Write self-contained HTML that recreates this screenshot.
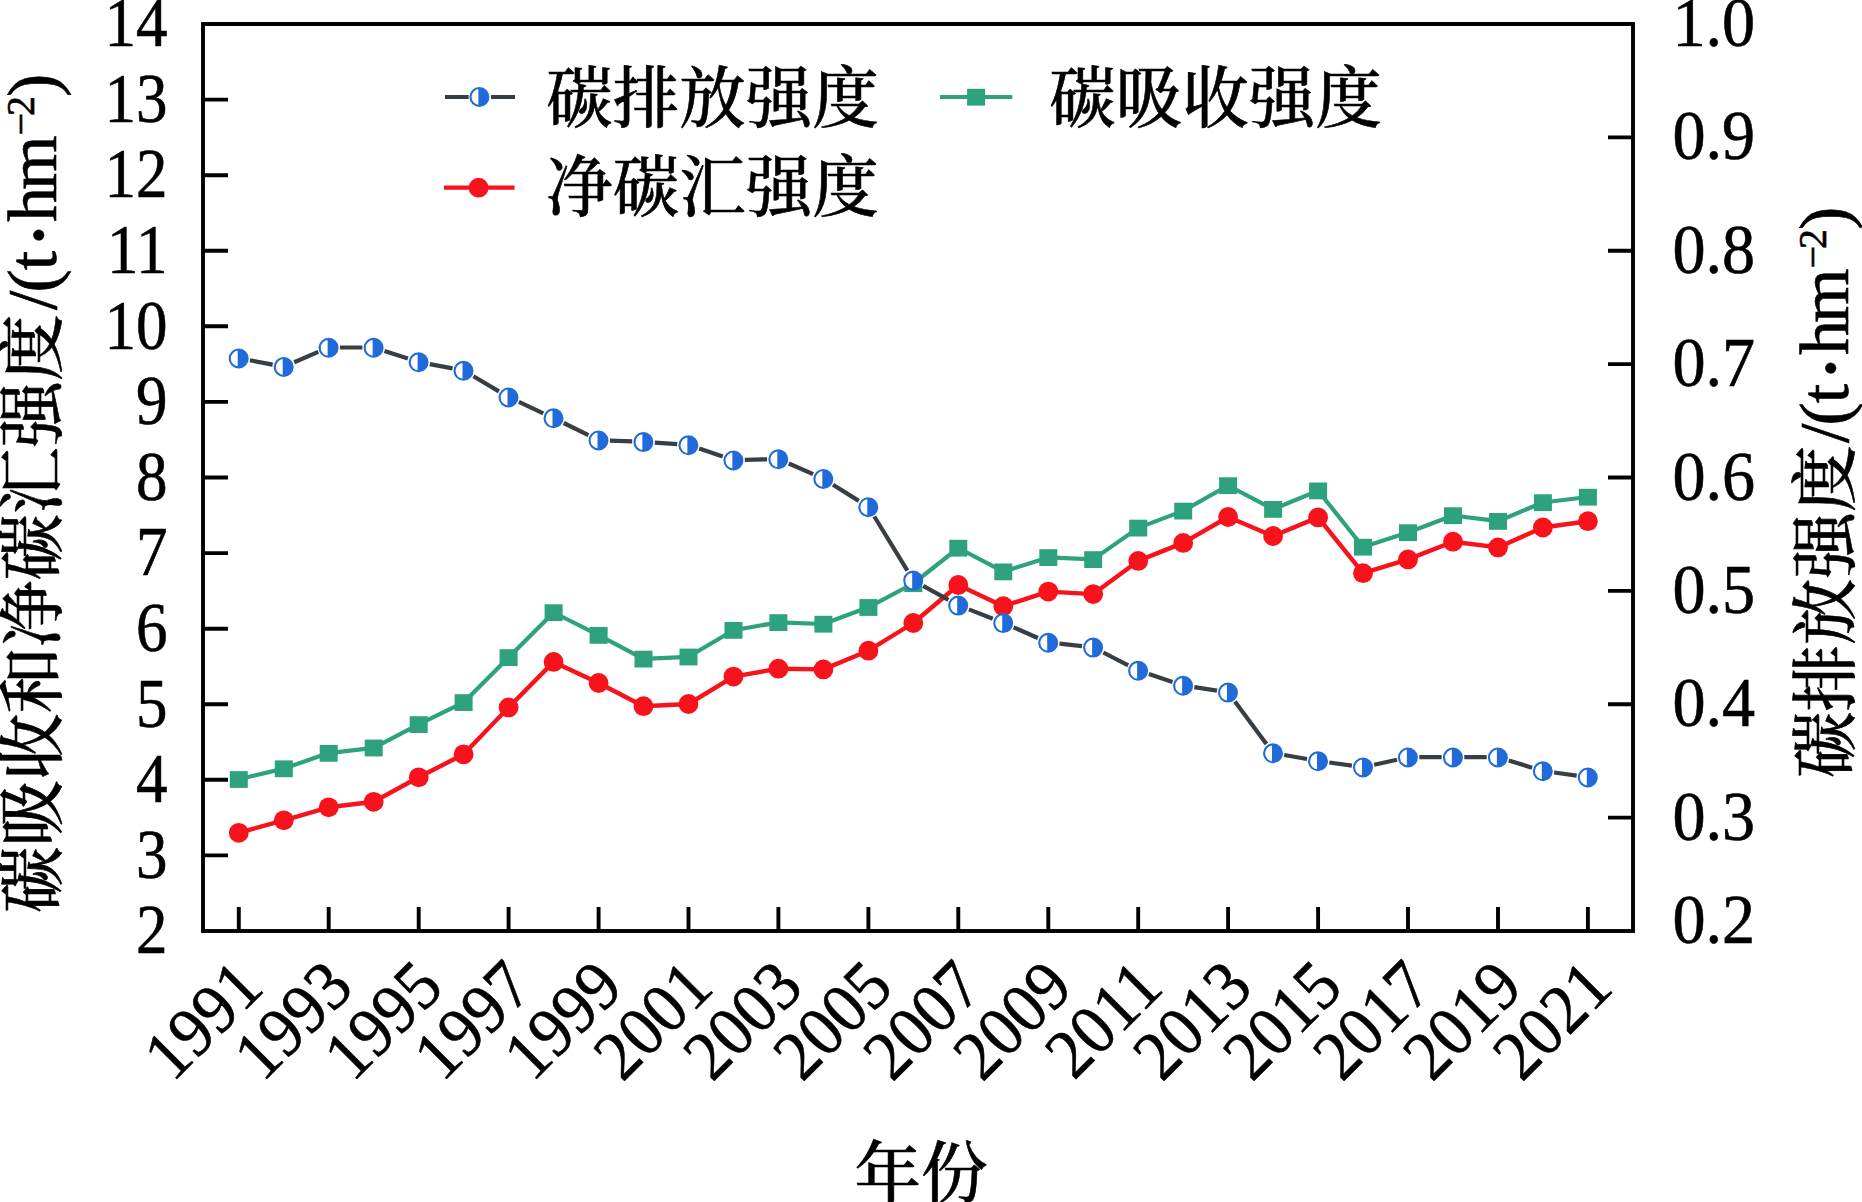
<!DOCTYPE html>
<html lang="zh"><head><meta charset="utf-8"><title>碳强度</title>
<style>html,body{margin:0;padding:0;background:#fff}svg{display:block}text{fill:#000;stroke:#000;stroke-width:.6px}.n{font-family:"Liberation Serif","Noto Serif CJK SC",serif;font-size:70px}.c{font-family:"Noto Serif CJK SC","Liberation Serif",serif;font-size:66.5px;font-weight:500}</style></head><body>
<svg width="1862" height="1202" viewBox="0 0 1862 1202">
<rect width="1862" height="1202" fill="#fff"/>
<path d="M203.0 855.4h25M203.0 779.8h25M203.0 704.2h25M203.0 628.7h25M203.0 553.1h25M203.0 477.5h25M203.0 401.9h25M203.0 326.3h25M203.0 250.8h25M203.0 175.2h25M203.0 99.6h25M1633.0 817.6h-25M1633.0 704.2h-25M1633.0 590.9h-25M1633.0 477.5h-25M1633.0 364.1h-25M1633.0 250.8h-25M1633.0 137.4h-25M238.8 931.0v-24M328.7 931.0v-24M418.7 931.0v-24M508.6 931.0v-24M598.6 931.0v-24M688.5 931.0v-24M778.4 931.0v-24M868.4 931.0v-24M958.3 931.0v-24M1048.3 931.0v-24M1138.2 931.0v-24M1228.1 931.0v-24M1318.1 931.0v-24M1408.0 931.0v-24M1498.0 931.0v-24M1587.9 931.0v-24" stroke="#000" stroke-width="3.9" fill="none"/>
<polyline points="238.8,779.3 283.8,768.6 328.7,753.1 373.7,747.8 418.7,724.4 463.6,702.4 508.6,657.4 553.6,612.5 598.6,635.2 643.5,658.9 688.5,656.8 733.5,630.2 778.4,622.4 823.4,624.0 868.4,607.3 913.3,583.5 958.3,548.0 1003.3,571.7 1048.3,557.4 1093.2,559.4 1138.2,527.9 1183.2,510.9 1228.1,485.5 1273.1,509.2 1318.1,490.7 1363.0,547.0 1408.0,532.5 1453.0,515.5 1498.0,521.2 1542.9,502.5 1587.9,497.0" fill="none" stroke="#2ea27e" stroke-width="4.2" stroke-linejoin="round"/>
<g fill="#2ea27e"><rect x="229.8" y="771.1" width="18.0" height="16.8"/><rect x="274.8" y="760.4" width="18.0" height="16.8"/><rect x="319.7" y="744.9" width="18.0" height="16.8"/><rect x="364.7" y="739.6" width="18.0" height="16.8"/><rect x="409.7" y="716.2" width="18.0" height="16.8"/><rect x="454.6" y="694.2" width="18.0" height="16.8"/><rect x="499.6" y="649.2" width="18.0" height="16.8"/><rect x="544.6" y="604.3" width="18.0" height="16.8"/><rect x="589.6" y="627.0" width="18.0" height="16.8"/><rect x="634.5" y="650.7" width="18.0" height="16.8"/><rect x="679.5" y="648.6" width="18.0" height="16.8"/><rect x="724.5" y="622.0" width="18.0" height="16.8"/><rect x="769.4" y="614.2" width="18.0" height="16.8"/><rect x="814.4" y="615.8" width="18.0" height="16.8"/><rect x="859.4" y="599.1" width="18.0" height="16.8"/><rect x="904.3" y="575.3" width="18.0" height="16.8"/><rect x="949.3" y="539.8" width="18.0" height="16.8"/><rect x="994.3" y="563.5" width="18.0" height="16.8"/><rect x="1039.3" y="549.2" width="18.0" height="16.8"/><rect x="1084.2" y="551.2" width="18.0" height="16.8"/><rect x="1129.2" y="519.7" width="18.0" height="16.8"/><rect x="1174.2" y="502.7" width="18.0" height="16.8"/><rect x="1219.1" y="477.3" width="18.0" height="16.8"/><rect x="1264.1" y="501.0" width="18.0" height="16.8"/><rect x="1309.1" y="482.5" width="18.0" height="16.8"/><rect x="1354.0" y="538.8" width="18.0" height="16.8"/><rect x="1399.0" y="524.3" width="18.0" height="16.8"/><rect x="1444.0" y="507.3" width="18.0" height="16.8"/><rect x="1489.0" y="513.0" width="18.0" height="16.8"/><rect x="1533.9" y="494.3" width="18.0" height="16.8"/><rect x="1578.9" y="488.8" width="18.0" height="16.8"/></g>
<polyline points="238.8,832.8 283.8,820.3 328.7,807.3 373.7,801.8 418.7,777.3 463.6,754.3 508.6,707.4 553.6,661.9 598.6,683.0 643.5,706.2 688.5,704.0 733.5,676.6 778.4,668.7 823.4,669.4 868.4,650.7 913.3,623.0 958.3,585.0 1003.3,606.2 1048.3,591.6 1093.2,594.1 1138.2,560.9 1183.2,542.9 1228.1,517.0 1273.1,536.0 1318.1,517.4 1363.0,573.2 1408.0,559.4 1453.0,541.7 1498.0,547.4 1542.9,527.5 1587.9,521.2" fill="none" stroke="#f8121b" stroke-width="4.4" stroke-linejoin="round"/>
<g fill="#f8121b"><circle cx="238.8" cy="832.8" r="9.9"/><circle cx="283.8" cy="820.3" r="9.9"/><circle cx="328.7" cy="807.3" r="9.9"/><circle cx="373.7" cy="801.8" r="9.9"/><circle cx="418.7" cy="777.3" r="9.9"/><circle cx="463.6" cy="754.3" r="9.9"/><circle cx="508.6" cy="707.4" r="9.9"/><circle cx="553.6" cy="661.9" r="9.9"/><circle cx="598.6" cy="683.0" r="9.9"/><circle cx="643.5" cy="706.2" r="9.9"/><circle cx="688.5" cy="704.0" r="9.9"/><circle cx="733.5" cy="676.6" r="9.9"/><circle cx="778.4" cy="668.7" r="9.9"/><circle cx="823.4" cy="669.4" r="9.9"/><circle cx="868.4" cy="650.7" r="9.9"/><circle cx="913.3" cy="623.0" r="9.9"/><circle cx="958.3" cy="585.0" r="9.9"/><circle cx="1003.3" cy="606.2" r="9.9"/><circle cx="1048.3" cy="591.6" r="9.9"/><circle cx="1093.2" cy="594.1" r="9.9"/><circle cx="1138.2" cy="560.9" r="9.9"/><circle cx="1183.2" cy="542.9" r="9.9"/><circle cx="1228.1" cy="517.0" r="9.9"/><circle cx="1273.1" cy="536.0" r="9.9"/><circle cx="1318.1" cy="517.4" r="9.9"/><circle cx="1363.0" cy="573.2" r="9.9"/><circle cx="1408.0" cy="559.4" r="9.9"/><circle cx="1453.0" cy="541.7" r="9.9"/><circle cx="1498.0" cy="547.4" r="9.9"/><circle cx="1542.9" cy="527.5" r="9.9"/><circle cx="1587.9" cy="521.2" r="9.9"/></g>
<path d="M249.9 360.3L272.7 364.6M294.2 362.3L318.3 351.9M340.0 347.5L362.4 347.5M384.5 351.0L407.9 358.5M429.8 364.1L452.5 368.4M473.4 376.3L498.9 391.4M518.9 401.9L543.3 413.3M563.7 423.0L588.4 435.2M609.9 440.6L632.2 441.4M654.8 442.6L677.2 444.2M699.2 448.6L722.8 456.6M744.8 459.9L767.1 459.3M788.8 463.5L813.1 474.2M833.0 484.7L858.8 500.9M874.3 516.5L907.4 570.7M923.2 585.8L948.4 599.8M968.9 609.4L992.8 618.7M1013.6 627.3L1037.9 638.0M1059.5 643.7L1082.0 646.1M1103.3 652.5L1128.2 665.3M1148.9 674.1L1172.5 681.9M1194.3 687.2L1217.0 690.6M1234.9 701.4L1266.4 743.9M1284.2 755.0L1307.0 759.0M1329.3 762.5L1351.9 765.7M1374.1 764.7L1397.0 759.7M1419.3 757.2L1441.7 757.2M1464.3 757.2L1486.7 757.2M1508.8 760.5L1532.1 767.7M1554.1 772.5L1576.7 775.7" stroke="#373f45" stroke-width="4.2" fill="none"/>
<g><circle cx="238.7" cy="358.5" r="8.95" fill="#fff"/><path d="M237.7 349.61A8.95 8.95 0 1 1 237.7 367.39z" fill="#206bd9"/><circle cx="238.7" cy="358.5" r="8.95" fill="none" stroke="#206bd9" stroke-width="2.1"/><circle cx="283.7" cy="367.0" r="8.95" fill="#fff"/><path d="M282.7 358.11A8.95 8.95 0 1 1 282.7 375.89z" fill="#206bd9"/><circle cx="283.7" cy="367.0" r="8.95" fill="none" stroke="#206bd9" stroke-width="2.1"/><circle cx="328.6" cy="347.8" r="8.95" fill="#fff"/><path d="M327.6 338.91A8.95 8.95 0 1 1 327.6 356.69z" fill="#206bd9"/><circle cx="328.6" cy="347.8" r="8.95" fill="none" stroke="#206bd9" stroke-width="2.1"/><circle cx="373.6" cy="347.8" r="8.95" fill="#fff"/><path d="M372.6 338.91A8.95 8.95 0 1 1 372.6 356.69z" fill="#206bd9"/><circle cx="373.6" cy="347.8" r="8.95" fill="none" stroke="#206bd9" stroke-width="2.1"/><circle cx="418.6" cy="362.3" r="8.95" fill="#fff"/><path d="M417.6 353.41A8.95 8.95 0 1 1 417.6 371.19z" fill="#206bd9"/><circle cx="418.6" cy="362.3" r="8.95" fill="none" stroke="#206bd9" stroke-width="2.1"/><circle cx="463.5" cy="370.8" r="8.95" fill="#fff"/><path d="M462.5 361.91A8.95 8.95 0 1 1 462.5 379.69z" fill="#206bd9"/><circle cx="463.5" cy="370.8" r="8.95" fill="none" stroke="#206bd9" stroke-width="2.1"/><circle cx="508.5" cy="397.5" r="8.95" fill="#fff"/><path d="M507.5 388.61A8.95 8.95 0 1 1 507.5 406.39z" fill="#206bd9"/><circle cx="508.5" cy="397.5" r="8.95" fill="none" stroke="#206bd9" stroke-width="2.1"/><circle cx="553.5" cy="418.3" r="8.95" fill="#fff"/><path d="M552.5 409.41A8.95 8.95 0 1 1 552.5 427.19z" fill="#206bd9"/><circle cx="553.5" cy="418.3" r="8.95" fill="none" stroke="#206bd9" stroke-width="2.1"/><circle cx="598.5" cy="440.5" r="8.95" fill="#fff"/><path d="M597.5 431.61A8.95 8.95 0 1 1 597.5 449.39z" fill="#206bd9"/><circle cx="598.5" cy="440.5" r="8.95" fill="none" stroke="#206bd9" stroke-width="2.1"/><circle cx="643.4" cy="442.1" r="8.95" fill="#fff"/><path d="M642.4 433.21A8.95 8.95 0 1 1 642.4 450.99z" fill="#206bd9"/><circle cx="643.4" cy="442.1" r="8.95" fill="none" stroke="#206bd9" stroke-width="2.1"/><circle cx="688.4" cy="445.3" r="8.95" fill="#fff"/><path d="M687.4 436.41A8.95 8.95 0 1 1 687.4 454.19z" fill="#206bd9"/><circle cx="688.4" cy="445.3" r="8.95" fill="none" stroke="#206bd9" stroke-width="2.1"/><circle cx="733.4" cy="460.5" r="8.95" fill="#fff"/><path d="M732.4 451.61A8.95 8.95 0 1 1 732.4 469.39z" fill="#206bd9"/><circle cx="733.4" cy="460.5" r="8.95" fill="none" stroke="#206bd9" stroke-width="2.1"/><circle cx="778.3" cy="459.3" r="8.95" fill="#fff"/><path d="M777.3 450.41A8.95 8.95 0 1 1 777.3 468.19z" fill="#206bd9"/><circle cx="778.3" cy="459.3" r="8.95" fill="none" stroke="#206bd9" stroke-width="2.1"/><circle cx="823.3" cy="479.0" r="8.95" fill="#fff"/><path d="M822.3 470.11A8.95 8.95 0 1 1 822.3 487.89z" fill="#206bd9"/><circle cx="823.3" cy="479.0" r="8.95" fill="none" stroke="#206bd9" stroke-width="2.1"/><circle cx="868.3" cy="507.2" r="8.95" fill="#fff"/><path d="M867.3 498.31A8.95 8.95 0 1 1 867.3 516.09z" fill="#206bd9"/><circle cx="868.3" cy="507.2" r="8.95" fill="none" stroke="#206bd9" stroke-width="2.1"/><circle cx="913.2" cy="580.6" r="8.95" fill="#fff"/><path d="M912.2 571.71A8.95 8.95 0 1 1 912.2 589.49z" fill="#206bd9"/><circle cx="913.2" cy="580.6" r="8.95" fill="none" stroke="#206bd9" stroke-width="2.1"/><circle cx="958.2" cy="605.6" r="8.95" fill="#fff"/><path d="M957.2 596.71A8.95 8.95 0 1 1 957.2 614.49z" fill="#206bd9"/><circle cx="958.2" cy="605.6" r="8.95" fill="none" stroke="#206bd9" stroke-width="2.1"/><circle cx="1003.2" cy="623.1" r="8.95" fill="#fff"/><path d="M1002.2 614.21A8.95 8.95 0 1 1 1002.2 631.99z" fill="#206bd9"/><circle cx="1003.2" cy="623.1" r="8.95" fill="none" stroke="#206bd9" stroke-width="2.1"/><circle cx="1048.2" cy="642.8" r="8.95" fill="#fff"/><path d="M1047.2 633.91A8.95 8.95 0 1 1 1047.2 651.69z" fill="#206bd9"/><circle cx="1048.2" cy="642.8" r="8.95" fill="none" stroke="#206bd9" stroke-width="2.1"/><circle cx="1093.1" cy="647.6" r="8.95" fill="#fff"/><path d="M1092.1 638.71A8.95 8.95 0 1 1 1092.1 656.49z" fill="#206bd9"/><circle cx="1093.1" cy="647.6" r="8.95" fill="none" stroke="#206bd9" stroke-width="2.1"/><circle cx="1138.1" cy="670.8" r="8.95" fill="#fff"/><path d="M1137.1 661.91A8.95 8.95 0 1 1 1137.1 679.69z" fill="#206bd9"/><circle cx="1138.1" cy="670.8" r="8.95" fill="none" stroke="#206bd9" stroke-width="2.1"/><circle cx="1183.1" cy="685.8" r="8.95" fill="#fff"/><path d="M1182.1 676.91A8.95 8.95 0 1 1 1182.1 694.69z" fill="#206bd9"/><circle cx="1183.1" cy="685.8" r="8.95" fill="none" stroke="#206bd9" stroke-width="2.1"/><circle cx="1228.0" cy="692.6" r="8.95" fill="#fff"/><path d="M1227.0 683.71A8.95 8.95 0 1 1 1227.0 701.49z" fill="#206bd9"/><circle cx="1228.0" cy="692.6" r="8.95" fill="none" stroke="#206bd9" stroke-width="2.1"/><circle cx="1273.0" cy="753.3" r="8.95" fill="#fff"/><path d="M1272.0 744.41A8.95 8.95 0 1 1 1272.0 762.19z" fill="#206bd9"/><circle cx="1273.0" cy="753.3" r="8.95" fill="none" stroke="#206bd9" stroke-width="2.1"/><circle cx="1318.0" cy="761.3" r="8.95" fill="#fff"/><path d="M1317.0 752.41A8.95 8.95 0 1 1 1317.0 770.19z" fill="#206bd9"/><circle cx="1318.0" cy="761.3" r="8.95" fill="none" stroke="#206bd9" stroke-width="2.1"/><circle cx="1363.0" cy="767.5" r="8.95" fill="#fff"/><path d="M1362.0 758.61A8.95 8.95 0 1 1 1362.0 776.39z" fill="#206bd9"/><circle cx="1363.0" cy="767.5" r="8.95" fill="none" stroke="#206bd9" stroke-width="2.1"/><circle cx="1407.9" cy="757.5" r="8.95" fill="#fff"/><path d="M1406.9 748.61A8.95 8.95 0 1 1 1406.9 766.39z" fill="#206bd9"/><circle cx="1407.9" cy="757.5" r="8.95" fill="none" stroke="#206bd9" stroke-width="2.1"/><circle cx="1452.9" cy="757.5" r="8.95" fill="#fff"/><path d="M1451.9 748.61A8.95 8.95 0 1 1 1451.9 766.39z" fill="#206bd9"/><circle cx="1452.9" cy="757.5" r="8.95" fill="none" stroke="#206bd9" stroke-width="2.1"/><circle cx="1497.9" cy="757.5" r="8.95" fill="#fff"/><path d="M1496.9 748.61A8.95 8.95 0 1 1 1496.9 766.39z" fill="#206bd9"/><circle cx="1497.9" cy="757.5" r="8.95" fill="none" stroke="#206bd9" stroke-width="2.1"/><circle cx="1542.8" cy="771.3" r="8.95" fill="#fff"/><path d="M1541.8 762.41A8.95 8.95 0 1 1 1541.8 780.19z" fill="#206bd9"/><circle cx="1542.8" cy="771.3" r="8.95" fill="none" stroke="#206bd9" stroke-width="2.1"/><circle cx="1587.8" cy="777.5" r="8.95" fill="#fff"/><path d="M1586.8 768.61A8.95 8.95 0 1 1 1586.8 786.39z" fill="#206bd9"/><circle cx="1587.8" cy="777.5" r="8.95" fill="none" stroke="#206bd9" stroke-width="2.1"/></g>
<rect x="203.0" y="24.0" width="1430.0" height="907.0" fill="none" stroke="#000" stroke-width="3.9"/>
<path d="M445 97h23.6M491 97h24" stroke="#373f45" stroke-width="4"/><circle cx="479.4" cy="97.0" r="8.95" fill="#fff"/><path d="M478.4 88.11A8.95 8.95 0 1 1 478.4 105.89z" fill="#206bd9"/><circle cx="479.4" cy="97.0" r="8.95" fill="none" stroke="#206bd9" stroke-width="2.1"/>
<path d="M444 187.7h70.5" stroke="#f8121b" stroke-width="4.2"/><circle cx="478.6" cy="187.7" r="9.9" fill="#f8121b"/>
<path d="M940 96.9h72.3" stroke="#2ea27e" stroke-width="4"/><rect x="967.1" y="88.8" width="18.0" height="16.8" fill="#2ea27e"/>
<text class="c" x="546.3" y="122">碳排放强度</text>
<text class="c" x="546.3" y="211">净碳汇强度</text>
<text class="c" x="1049.3" y="122">碳吸收强度</text>
<text class="n" transform="translate(167.6,953.2) scale(0.9,1)" text-anchor="end">2</text>
<text class="n" transform="translate(167.6,877.6) scale(0.9,1)" text-anchor="end">3</text>
<text class="n" transform="translate(167.6,802.0) scale(0.9,1)" text-anchor="end">4</text>
<text class="n" transform="translate(167.6,726.5) scale(0.9,1)" text-anchor="end">5</text>
<text class="n" transform="translate(167.6,650.9) scale(0.9,1)" text-anchor="end">6</text>
<text class="n" transform="translate(167.6,575.3) scale(0.9,1)" text-anchor="end">7</text>
<text class="n" transform="translate(167.6,499.7) scale(0.9,1)" text-anchor="end">8</text>
<text class="n" transform="translate(167.6,424.1) scale(0.9,1)" text-anchor="end">9</text>
<text class="n" transform="translate(167.6,348.5) scale(0.9,1)" text-anchor="end">10</text>
<text class="n" transform="translate(167.6,272.9) scale(0.9,1)" text-anchor="end">11</text>
<text class="n" transform="translate(167.6,197.4) scale(0.9,1)" text-anchor="end">12</text>
<text class="n" transform="translate(167.6,121.8) scale(0.9,1)" text-anchor="end">13</text>
<text class="n" transform="translate(167.6,46.2) scale(0.9,1)" text-anchor="end">14</text>
<text class="n" transform="translate(1672.5,942.8) scale(0.945,1)">0.2</text>
<text class="n" transform="translate(1672.5,839.6) scale(0.945,1)">0.3</text>
<text class="n" transform="translate(1672.5,726.2) scale(0.945,1)">0.4</text>
<text class="n" transform="translate(1672.5,612.9) scale(0.945,1)">0.5</text>
<text class="n" transform="translate(1672.5,499.5) scale(0.945,1)">0.6</text>
<text class="n" transform="translate(1672.5,386.1) scale(0.945,1)">0.7</text>
<text class="n" transform="translate(1672.5,272.8) scale(0.945,1)">0.8</text>
<text class="n" transform="translate(1672.5,159.4) scale(0.945,1)">0.9</text>
<text class="n" transform="translate(1672.5,46.0) scale(0.945,1)">1.0</text>
<text class="n" transform="translate(265.8,990.0) rotate(-45) scale(0.94,1)" text-anchor="end">1991</text>
<text class="n" transform="translate(355.7,990.0) rotate(-45) scale(0.94,1)" text-anchor="end">1993</text>
<text class="n" transform="translate(445.7,990.0) rotate(-45) scale(0.94,1)" text-anchor="end">1995</text>
<text class="n" transform="translate(535.6,990.0) rotate(-45) scale(0.94,1)" text-anchor="end">1997</text>
<text class="n" transform="translate(625.6,990.0) rotate(-45) scale(0.94,1)" text-anchor="end">1999</text>
<text class="n" transform="translate(715.5,990.0) rotate(-45) scale(0.94,1)" text-anchor="end">2001</text>
<text class="n" transform="translate(805.4,990.0) rotate(-45) scale(0.94,1)" text-anchor="end">2003</text>
<text class="n" transform="translate(895.4,990.0) rotate(-45) scale(0.94,1)" text-anchor="end">2005</text>
<text class="n" transform="translate(985.3,990.0) rotate(-45) scale(0.94,1)" text-anchor="end">2007</text>
<text class="n" transform="translate(1075.3,990.0) rotate(-45) scale(0.94,1)" text-anchor="end">2009</text>
<text class="n" transform="translate(1165.2,990.0) rotate(-45) scale(0.94,1)" text-anchor="end">2011</text>
<text class="n" transform="translate(1255.1,990.0) rotate(-45) scale(0.94,1)" text-anchor="end">2013</text>
<text class="n" transform="translate(1345.1,990.0) rotate(-45) scale(0.94,1)" text-anchor="end">2015</text>
<text class="n" transform="translate(1435.0,990.0) rotate(-45) scale(0.94,1)" text-anchor="end">2017</text>
<text class="n" transform="translate(1525.0,990.0) rotate(-45) scale(0.94,1)" text-anchor="end">2019</text>
<text class="n" transform="translate(1614.9,990.0) rotate(-45) scale(0.94,1)" text-anchor="end">2021</text>
<text class="c" x="921" y="1196.5" text-anchor="middle">年份</text>
<text class="c" transform="translate(56,913) rotate(-90)">碳吸收和净碳汇强度</text><text class="n" transform="translate(55.5,310) rotate(-90)">/<tspan dx="-2">(</tspan><tspan dx="-1">t</tspan><tspan dx="1" dy="12" style="font-size:88px">·</tspan><tspan dx="-1.5" dy="-12">h</tspan><tspan dx="-3">m</tspan><tspan dy="-22" style="font-size:40px">−</tspan><tspan dx="-3" style="font-size:40px">2</tspan><tspan dy="22" dx="-1">)</tspan></text>
<text class="c" transform="translate(1848.5,778) rotate(-90)">碳排放强度</text><text class="n" transform="translate(1847.5,443) rotate(-90)">/<tspan dx="-2">(</tspan><tspan dx="-1">t</tspan><tspan dx="1" dy="12" style="font-size:88px">·</tspan><tspan dx="-1.5" dy="-12">h</tspan><tspan dx="-3">m</tspan><tspan dy="-22" style="font-size:40px">−</tspan><tspan dx="-3" style="font-size:40px">2</tspan><tspan dy="22" dx="-1">)</tspan></text>
</svg></body></html>
